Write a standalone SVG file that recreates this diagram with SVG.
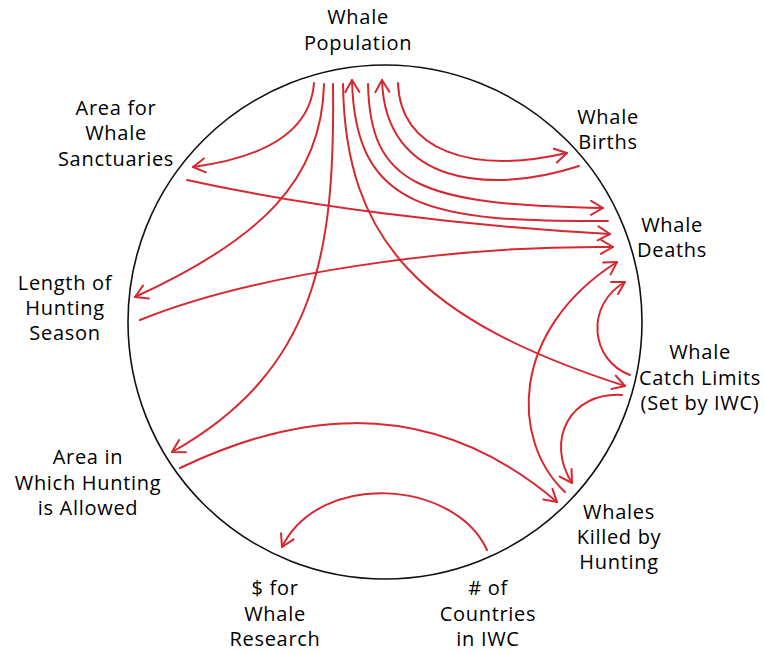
<svg xmlns="http://www.w3.org/2000/svg" width="765" height="653" viewBox="0 0 765 653">
<defs>
<style>
.lbl{font-family:"Open Sans","Noto Sans","Liberation Sans",sans-serif;font-size:20px;fill:#000;text-anchor:middle;letter-spacing:0.7px}
.c{fill:none;stroke:#d62830;stroke-width:2;stroke-linecap:round;marker-end:url(#ah)}
</style>
<marker id="ah" markerUnits="userSpaceOnUse" viewBox="-14 -9 16 18" refX="0" refY="0" markerWidth="16" markerHeight="18" orient="auto">
<path d="M-12,-7 L0,0 L-12,7" fill="none" stroke="#d62830" stroke-width="2" stroke-linecap="round" stroke-linejoin="round"/>
</marker>
</defs>
<rect width="765" height="653" fill="#fff"/>
<circle cx="385" cy="322" r="257" fill="none" stroke="#111" stroke-width="1.6"/>
<g id="connectors">
<path class="c" d="M314,83 C310,135 260,158 193,167"/>
<path class="c" d="M324,84 C322,180 260,240 135,297"/>
<path class="c" d="M333,84 C335,250 318,370 172,452"/>
<path class="c" d="M343,84 C345,240 420,320 625,386"/>
<path class="c" d="M608,221 C430,222 355,210 352,80"/>
<path class="c" d="M368,84 C370,185 420,205 603,208"/>
<path class="c" d="M579,166 C490,195 385,185 382,80"/>
<path class="c" d="M398,83 C400,150 470,175 567,153"/>
<path class="c" d="M187,180 C300,205 450,225 610,234"/>
<path class="c" d="M140,320 C250,275 450,245 613,247"/>
<path class="c" d="M565,492 C510,440 510,330 617,262"/>
<path class="c" d="M630,375 C590,360 585,305 625,282"/>
<path class="c" d="M622,395 C570,392 545,440 572,483"/>
<path class="c" d="M180,468 C280,420 420,385 557,502"/>
<path class="c" d="M487,550 C455,480 320,470 282,547"/>
</g>
<g id="whale-population"><text class="lbl" x="358" y="24">Whale</text><text class="lbl" x="358" y="50">Population</text></g>
<g id="area-sanctuaries"><text class="lbl" x="116" y="115">Area for</text><text class="lbl" x="116" y="140">Whale</text><text class="lbl" x="116" y="166">Sanctuaries</text></g>
<g id="whale-births"><text class="lbl" x="608" y="124">Whale</text><text class="lbl" x="608" y="149">Births</text></g>
<g id="whale-deaths"><text class="lbl" x="672" y="232">Whale</text><text class="lbl" x="672" y="257">Deaths</text></g>
<g id="length-season"><text class="lbl" x="65" y="290">Length of</text><text class="lbl" x="65" y="315">Hunting</text><text class="lbl" x="65" y="340">Season</text></g>
<g id="catch-limits"><text class="lbl" x="700" y="359">Whale</text><text class="lbl" x="700" y="385">Catch Limits</text><text class="lbl" x="700" y="410">(Set by IWC)</text></g>
<g id="area-hunting"><text class="lbl" x="88" y="464">Area in</text><text class="lbl" x="88" y="490">Which Hunting</text><text class="lbl" x="88" y="515">is Allowed</text></g>
<g id="whales-killed"><text class="lbl" x="619" y="519">Whales</text><text class="lbl" x="619" y="544">Killed by</text><text class="lbl" x="619" y="569">Hunting</text></g>
<g id="research"><text class="lbl" x="275" y="595">$ for</text><text class="lbl" x="275" y="621">Whale</text><text class="lbl" x="275" y="646">Research</text></g>
<g id="countries"><text class="lbl" x="488" y="595"># of</text><text class="lbl" x="488" y="621">Countries</text><text class="lbl" x="488" y="646">in IWC</text></g>
</svg>
